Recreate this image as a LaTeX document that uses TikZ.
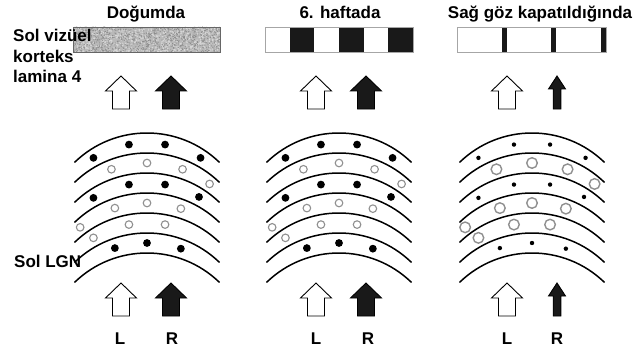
\documentclass[tikz,border=0pt]{standalone}
\usepackage{fontspec}
\setmainfont{Liberation Sans}
\usetikzlibrary{positioning}

\tikzset{
  txt/.style={font=\bfseries\fontsize{17}{20.5}\selectfont, inner sep=0pt},
  layer/.style={line width=1.5pt, line cap=round},
  contra/.style={fill=black},
  ipsi/.style={draw=gray!55!black!60, fill=white},
  openarrow/.style={draw=black, fill=white, line width=0.9pt},
  fullarrow/.style={draw=black, fill=black!90, line width=0.9pt},
  bigarrow/.pic={\path[pic actions] (-8.5,0) -- (-8.5,-18) -- (-15.5,-18) -- (0,-33) -- (15.5,-18) -- (8.5,-18) -- (8.5,0) -- cycle;},
  slimarrow/.pic={\path[pic actions] (-3.8,0) -- (-3.8,-20) -- (-8.5,-20) -- (0,-33) -- (8.5,-20) -- (3.8,-20) -- (3.8,0) -- cycle;},
}

\begin{document}
\begin{tikzpicture}[x=1pt, y=-1pt]
  \useasboundingbox (0,0) rectangle (644,350);

  % lamina 4 stripes
  \begin{scope}
    \clip (73,27) rectangle (220,52);
    \fill[gray!55] (73,27) rectangle (220,52);
    \pgfmathsetseed{42}
    \foreach \i in {1,...,700}
      \fill[gray!30] ({73+147*rnd},{27+25*rnd}) circle (0.8);
    \foreach \i in {1,...,900}
      \fill[gray!90] ({73+147*rnd},{27+25*rnd}) circle (0.6);
  \end{scope}
  \draw[gray!80!black, line width=0.6pt] (73,27) rectangle (220,52);

  \foreach \i in {1,3,5}
    \fill[black!90] ({265+\i*24.67},27) rectangle ({265+(\i+1)*24.67},52);
  \draw[gray!70, line width=0.6pt] (265,27) rectangle (413,52);

  \foreach \i in {1,2,3}
    \fill[black!90] ({457+\i*49.67-5},27) rectangle ({457+\i*49.67},52);
  \draw[gray!70, line width=0.6pt] (457,27) rectangle (606,52);

  % titles and side labels
  \node[txt, anchor=base] (birth) at (146,19) {Doğumda};
  \node[txt, anchor=base] (week6) at (340,19) {6. haftada};
  \node[txt, anchor=base] (closed) at (540,19) {Sağ göz kapatıldığında};
  \node[txt, anchor=north west, align=left] (cortex) at (13,29) {Sol vizüel\\korteks\\lamina 4};
  \node[txt, anchor=base west] (lgn) at (14,267) {Sol LGN};

  % LGN layers
  \foreach \cx/\rc/\ri/\lw in {147/3.9/3.8/1.1pt, 339/3.9/3.8/1.1pt, 532/2.2/5.3/1.4pt} {
    \foreach \k in {0,...,6}
      \draw[layer] ([shift={(\cx,{237+20*\k})}]-134:104) arc[start angle=-134, end angle=-46, radius=104];
    \foreach \k/\angs in {0/{-31,-10,10,31}, 2/{-31,-10,10,30}, 5/{-18,0,19}}
      \foreach \a in \angs
        \fill[contra] ([shift={(\cx,{247+20*\k})}]{\a-90}:104) circle (\rc);
    \foreach \k/\angs in {1/{-20,0,20,37}, 3/{-40,-18,0,19}, 4/{-31,-10,10}}
      \foreach \a in \angs
        \draw[ipsi, line width=\lw] ([shift={(\cx,{247+20*\k})}]{\a-90}:104) circle (\ri);
  }

  % eye inputs
  \pic[openarrow] (top1L) at (121,109) {bigarrow};
  \pic[fullarrow] (top1R) at (171,109) {bigarrow};
  \pic[openarrow] (top2L) at (316,109) {bigarrow};
  \pic[fullarrow] (top2R) at (366,109) {bigarrow};
  \pic[openarrow] (top3L) at (507,109) {bigarrow};
  \pic[fullarrow] (top3R) at (557,109) {slimarrow};

  \pic[openarrow] (bot1L) at (121,316) {bigarrow};
  \pic[fullarrow] (bot1R) at (171,316) {bigarrow};
  \pic[openarrow] (bot2L) at (316,316) {bigarrow};
  \pic[fullarrow] (bot2R) at (366,316) {bigarrow};
  \pic[openarrow] (bot3L) at (507,316) {bigarrow};
  \pic[fullarrow] (bot3R) at (557,316) {slimarrow};

  \foreach \n/\xl/\xr in {1/120/172, 2/316/368, 3/507/557} {
    \node[txt, anchor=base] (eye\n L) at (\xl,344) {L};
    \node[txt, anchor=base] (eye\n R) at (\xr,344) {R};
  }
\end{tikzpicture}
\end{document}
